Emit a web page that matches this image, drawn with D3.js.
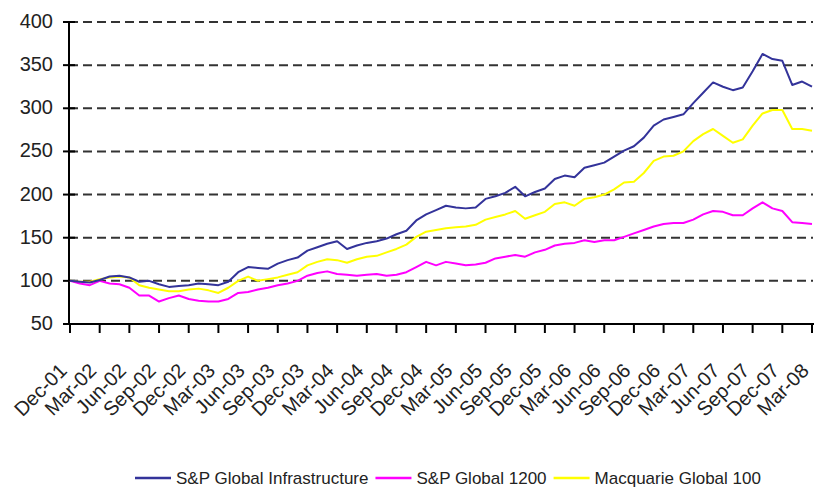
<!DOCTYPE html>
<html>
<head>
<meta charset="utf-8">
<script src="https://cdn.jsdelivr.net/npm/d3@7"></script>
<style>
  html, body { margin: 0; padding: 0; background: #fff; }
  svg { display: block; }
  text { font-family: "Liberation Sans", Arial, sans-serif; fill: #222; }
</style>
</head>
<body>
<svg id="chart" width="814" height="490"></svg>
<script>
// monthly index values, Dec-01 .. Mar-08 (76 months)
const tickLabels = ['Dec-01', 'Mar-02', 'Jun-02', 'Sep-02', 'Dec-02', 'Mar-03', 'Jun-03', 'Sep-03', 'Dec-03',
  'Mar-04', 'Jun-04', 'Sep-04', 'Dec-04', 'Mar-05', 'Jun-05', 'Sep-05', 'Dec-05', 'Mar-06', 'Jun-06',
  'Sep-06', 'Dec-06', 'Mar-07', 'Jun-07', 'Sep-07', 'Dec-07', 'Mar-08']
const yTicks = [50, 100, 150, 200, 250, 300, 350, 400]

const infra = [100, 99, 98, 101, 105, 106, 104, 99, 100, 96, 93, 94, 95, 97, 96, 95, 99, 110, 116, 115,
  114, 120, 124, 127, 135, 139, 143, 146, 137, 141, 144, 146, 149, 154, 158, 170, 177, 182, 187, 185,
  184, 185, 195, 198, 202, 209, 198, 203, 207, 218, 222, 220, 231, 234, 237, 244, 251, 256, 266, 280,
  287, 290, 293, 306, 318, 330, 325, 321, 324, 343, 363, 357, 355, 327, 331, 325]
const sp1200 = [100, 97, 95, 100, 97, 96, 92, 83, 83, 76, 80, 83, 79, 77, 76, 76, 79, 86, 87, 90,
  92, 95, 97, 100, 106, 109, 111, 108, 107, 106, 107, 108, 106, 107, 110, 116, 122, 118, 122, 120,
  118, 119, 121, 126, 128, 130, 128, 133, 136, 141, 143, 144, 147, 145, 147, 147, 151, 155, 159, 163,
  166, 167, 167, 171, 177, 181, 180, 176, 176, 184, 191, 184, 181, 168, 167, 166]
const macq = [100, 99, 99, 102, 104, 105, 104, 95, 92, 90, 88, 88, 90, 91, 89, 86, 92, 100, 105, 100,
  102, 104, 107, 110, 118, 122, 125, 124, 121, 125, 128, 129, 133, 137, 142, 151, 157, 159, 161, 162,
  163, 165, 171, 174, 177, 181, 172, 176, 180, 189, 191, 187, 195, 197, 200, 206, 214, 215, 225, 239,
  244, 245, 250, 262, 270, 276, 268, 260, 264, 280, 294, 298, 298, 276, 276, 274]

const seriesNames = ['S&P Global Infrastructure', 'S&P Global 1200', 'Macquarie Global 100']
const seriesColors = ['#33339a', '#ff00ff', '#ffff00']

const svg = d3.select('#chart')
const plotLeft = 69
const plotRight = 813
const plotTop = 22
const plotBottom = 324

const x = d3.scaleLinear()
  .domain([0, infra.length - 1])
  .range([plotLeft + 1, plotRight - 1])
const y = d3.scaleLinear()
  .domain([50, 400])
  .range([plotBottom, plotTop])

// gridlines
svg.append('g')
  .selectAll('line')
  .data(yTicks.filter(d => d > 50))
  .enter().append('line')
  .attr('x1', plotLeft)
  .attr('x2', plotRight)
  .attr('y1', d => y(d))
  .attr('y2', d => y(d))
  .attr('stroke', '#333')
  .attr('stroke-width', 2)
  .attr('stroke-dasharray', '9,5')

// y axis
const yAxis = svg.append('g')
yAxis.append('line')
  .attr('x1', plotLeft).attr('x2', plotLeft)
  .attr('y1', plotTop).attr('y2', plotBottom)
  .attr('stroke', '#000').attr('stroke-width', 2)
yAxis.selectAll('.ytick')
  .data(yTicks)
  .enter().append('line')
  .attr('class', 'ytick')
  .attr('x1', plotLeft - 6).attr('x2', plotLeft + 6)
  .attr('y1', d => y(d)).attr('y2', d => y(d))
  .attr('stroke', '#000').attr('stroke-width', 2)
yAxis.selectAll('text')
  .data(yTicks)
  .enter().append('text')
  .attr('x', 53)
  .attr('y', d => y(d) + 6)
  .attr('text-anchor', 'end')
  .style('font-size', '20px')
  .text(d => d)

// x axis
const xAxis = svg.append('g')
xAxis.append('line')
  .attr('x1', plotLeft).attr('x2', plotRight + 1)
  .attr('y1', plotBottom).attr('y2', plotBottom)
  .attr('stroke', '#000').attr('stroke-width', 2)
xAxis.selectAll('.xtick')
  .data(tickLabels)
  .enter().append('line')
  .attr('class', 'xtick')
  .attr('x1', (d, i) => x(i * 3)).attr('x2', (d, i) => x(i * 3))
  .attr('y1', plotBottom).attr('y2', plotBottom + 9)
  .attr('stroke', '#000').attr('stroke-width', 2)
xAxis.selectAll('text')
  .data(tickLabels)
  .enter().append('text')
  .attr('text-anchor', 'end')
  .attr('transform', (d, i) => 'translate(' + (x(i * 3) - 2) + ',' + (plotBottom + 48) + ') rotate(-45)')
  .style('font-size', '20px')
  .text(d => d)

// lines
const line = d3.line()
  .x((d, i) => x(i))
  .y(d => y(d))
const allSeries = [infra, sp1200, macq]
svg.append('g')
  .selectAll('path')
  .data(allSeries.slice().reverse())
  .enter().append('path')
  .attr('d', d => line(d))
  .attr('fill', 'none')
  .attr('stroke', (d, i) => seriesColors[2 - i])
  .attr('stroke-width', 2)
  .attr('stroke-linejoin', 'round')

// legend
const legend = svg.append('g')
let lx = 135
const ly = 478
seriesNames.forEach((name, i) => {
  legend.append('line')
    .attr('x1', lx).attr('x2', lx + 36)
    .attr('y1', ly).attr('y2', ly)
    .attr('stroke', seriesColors[i])
    .attr('stroke-width', 2.5)
  const t = legend.append('text')
    .attr('x', lx + 41)
    .attr('y', ly + 6)
    .style('font-size', '17px')
    .text(name)
  lx = lx + 41 + t.node().getComputedTextLength() + 7
})
</script>
</body>
</html>
